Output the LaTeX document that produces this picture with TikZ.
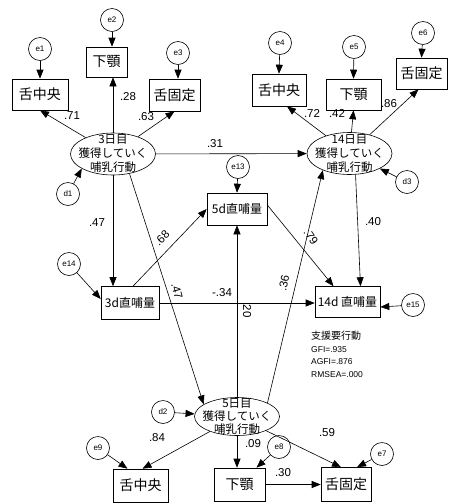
\documentclass[tikz,border=0pt]{standalone}
\usepackage{fontspec}
\setmainfont{Liberation Sans}
\newfontfamily\jp{Noto Sans CJK JP}
\usetikzlibrary{arrows.meta,shapes.geometric}
\begin{document}
\begin{tikzpicture}[x=1pt,y=-1pt,
  box/.style={draw, line width=0.6pt, inner sep=0pt, font=\jp\fontsize{14}{14}\selectfont},
  dbox/.style={draw, line width=0.6pt, inner sep=0pt, font=\jp\fontsize{12}{12}\selectfont},
  err/.style={draw, circle, line width=0.6pt, minimum size=23pt, inner sep=0pt, font=\fontsize{8}{8}\selectfont},
  lat/.style={draw, ellipse, line width=0.6pt, minimum width=85pt, minimum height=42pt, inner sep=0pt},
  lattext/.style={align=center, font=\jp\fontsize{11.5}{14}\selectfont, inner sep=0pt},
  lbl/.style={font=\fontsize{11.5}{12}\selectfont, inner sep=0pt},
  arr/.style={-{Triangle[length=9pt,width=7pt]}, line width=0.6pt}]
\useasboundingbox (0,0) rectangle (448,504);
% top left
\node[err] (e1) at (40,49) {e1};
\node[box, minimum width=56pt, minimum height=31pt] (a1) at (40,94.5) {舌中央};
\node[err] (e2) at (112,20) {e2};
\node[box, minimum width=41pt, minimum height=30pt] (a2) at (106.5,62) {下顎};
\node[err] (e3) at (178,53) {e3};
\node[box, minimum width=51pt, minimum height=32pt] (a3) at (174.5,95) {舌固定};
\node[lat] (L3) at (113,154) {};
\node[lattext] (L3t) at (L3) {3日目\\獲得していく\\哺乳行動};
\node[err] (d1) at (68,194) {d1};
% top right
\node[err] (e4) at (280,43) {e4};
\node[box, minimum width=54pt, minimum height=32pt] (c1) at (279,90) {舌中央};
\node[err] (e5) at (354,47) {e5};
\node[box, minimum width=55pt, minimum height=31pt] (c2) at (353.5,94.5) {下顎};
\node[err] (e6) at (423,33) {e6};
\node[box, minimum width=51pt, minimum height=31pt] (c3) at (421.5,73.5) {舌固定};
\node[lat] (L14) at (349.5,153.5) {};
\node[lattext] (L14t) at (L14) {14日目\\獲得していく\\哺乳行動};
\node[err] (d3) at (407,182) {d3};
% middle
\node[err] (e13) at (238,167) {e13};
\node[dbox, minimum width=60pt, minimum height=32pt] (B5) at (237,209) {5d直哺量};
\node[err] (e14) at (69,264) {e14};
\node[dbox, minimum width=58pt, minimum height=33pt] (B3) at (130,303) {3d直哺量};
\node[dbox, minimum width=65pt, minimum height=31pt] (B14) at (347.5,302) {14d 直哺量};
\node[err] (e15) at (413,305) {e15};
% bottom
\node[lat, minimum height=38pt] (L5) at (237,416.5) {};
\node[lattext, font=\jp\fontsize{11.5}{13}\selectfont] (L5t) at (L5) {5日目\\獲得していく\\哺乳行動};
\node[err] (d2) at (163,412) {d2};
\node[err] (e9) at (98,448) {e9};
\node[box, minimum width=55pt, minimum height=33pt] (f1) at (140.5,485.5) {舌中央};
\node[err] (e8) at (279,447) {e8};
\node[box, minimum width=51pt, minimum height=33pt] (f2) at (239.5,484.5) {下顎};
\node[err] (e7) at (382,454) {e7};
\node[box, minimum width=50pt, minimum height=34pt] (f3) at (346,484.5) {舌固定};
% connectors top left
\draw[arr] (e1) -- (a1.north);
\draw[arr] (e2) -- (e2 |- a2.north);
\draw[arr] (e3) -- (e3 |- a3.north);
\draw[arr] (L3) -- (a1.south);
\draw[arr] (L3.north) -- (L3.north |- a2.south);
\draw[arr] (L3) -- (a3.south);
\draw[arr] (d1) -- (L3.-155);
\draw[arr] (L3) -- (L14);
\draw[arr] (L3.south) -- (L3.south |- B3.north);
\draw[arr] (L3.-50) -- (L5.160);
% top right
\draw[arr] (e4) -- (c1.north);
\draw[arr] (e5) -- (c2.north);
\draw[arr] (e6) -- (c3.north);
\draw[arr] (L14) -- ([xshift=8pt]c1.south);
\draw[arr] (L14) -- (c2.south);
\draw[arr] (L14) -- ([xshift=-3pt]c3.south);
\draw[arr] (d3) -- (L14);
% middle
\draw[arr] (e14) -- ([yshift=4pt]B3.west);
\draw[arr] ([xshift=3pt]B3.north) -- (B5.west);
\draw[arr] (B3.east) -- (B3.east -| B14.west);
\draw[arr] (e13) -- (B5.north);
\draw[arr] (L5.north) -- (B5.south);
\draw[arr] ([yshift=4pt]B5.east) -- ([xshift=-14pt]B14.north);
\draw[arr] (L5.24) -- (L14.-148);
\draw[arr] (L14.-74) -- ([xshift=13pt]B14.north);
\draw[arr] (e15) -- ([yshift=-5pt]B14.east);
% bottom
\draw[arr] (d2) -- (L5);
\draw[arr] (L5) -- ([xshift=2pt]f1.north);
\draw[arr] (e9) -- ([xshift=-13pt]f1.north);
\draw[arr] (L5.south) -- (L5.south |- f2.north);
\draw[arr] (e8) -- ([xshift=17pt]f2.north);
\draw[arr] (L5) -- ([xshift=-5pt]f3.north);
\draw[arr] (e7) -- ([xshift=11pt]f3.north);
\draw[arr] (f2.east) -- (f2.east -| f3.west);
% labels
\node[lbl] (l1) at (72,116) {.71};
\node[lbl] (l2) at (128,97) {.28};
\node[lbl] (l3) at (146,117) {.63};
\node[lbl] (l4) at (215,144) {.31};
\node[lbl] (l5) at (312,113) {.72};
\node[lbl] (l6) at (337,113) {.42};
\node[lbl] (l7) at (389,104) {.86};
\node[lbl] (l8) at (97,223) {.47};
\node[lbl, rotate=45] (l9) at (162,238) {.68};
\node[lbl, rotate=-75] (l10) at (177,291) {.47};
\node[lbl] (l11) at (222,293) {-.34};
\node[lbl, rotate=-90] (l12) at (247,311) {20};
\node[lbl, rotate=78] (l13) at (284,283) {.36};
\node[lbl, rotate=-55] (l14) at (311,237) {.79};
\node[lbl] (l15) at (373,222) {.40};
\node[lbl] (l16) at (157,438) {.84};
\node[lbl] (l17) at (253,444) {.09};
\node[lbl] (l18) at (283,473) {.30};
\node[lbl] (l19) at (327,433) {.59};
\node[anchor=north west, align=left, inner sep=0pt, font=\fontsize{8.5}{12.5}\selectfont] (stats) at (311,331)
  {{\jp\fontsize{10}{12.5}\selectfont 支援要行動}\\GFI=.935\\AGFI=.876\\RMSEA=.000};
\end{tikzpicture}
\end{document}
